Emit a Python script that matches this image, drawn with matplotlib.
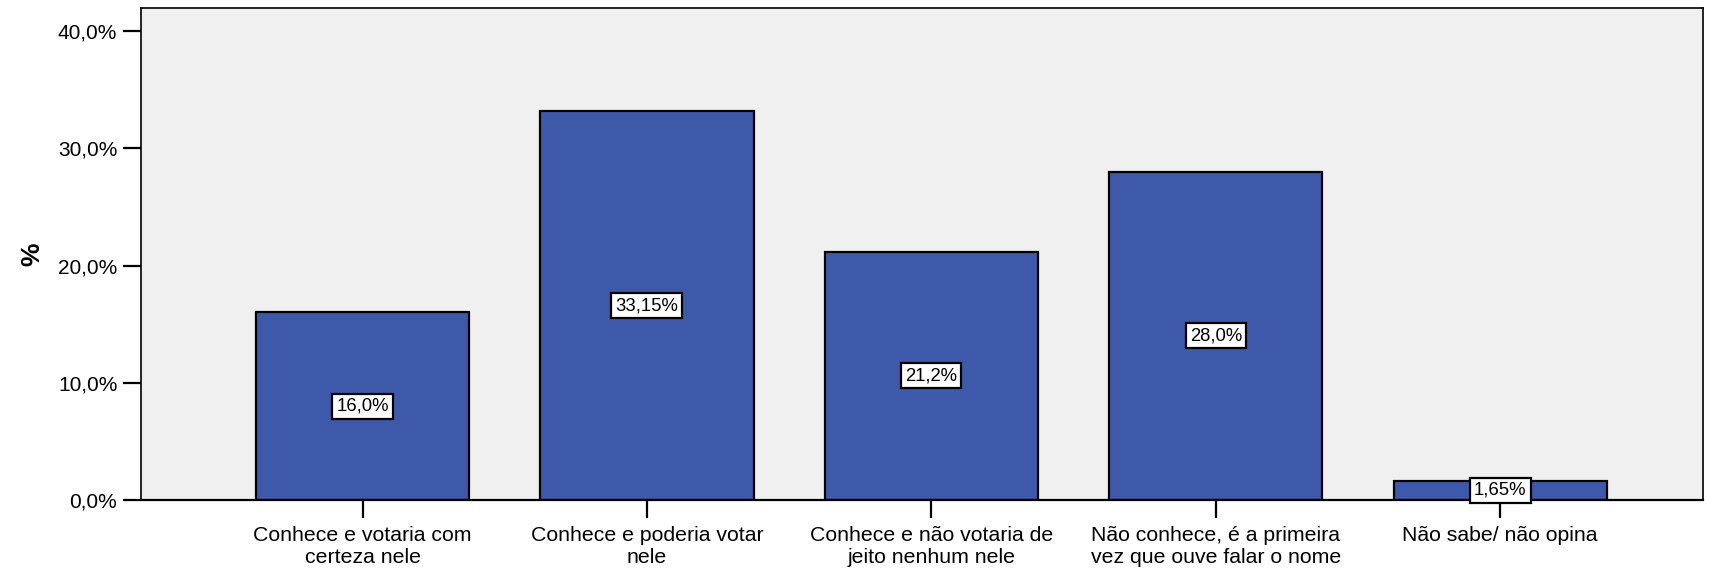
import matplotlib.pyplot as plt

plt.rcParams['font.family'] = ['Liberation Sans', 'DejaVu Sans']

categories = ['Conhece e votaria com\ncerteza nele',
              'Conhece e poderia votar\nnele',
              'Conhece e não votaria de\njeito nenhum nele',
              'Não conhece, é a primeira\nvez que ouve falar o nome',
              'Não sabe/ não opina']
values = [16.0, 33.15, 21.2, 28.0, 1.65]
value_labels = ['16,0%', '33,15%', '21,2%', '28,0%', '1,65%']
yticks = [0, 10, 20, 30, 40]
ytick_labels = ['0,0%', '10,0%', '20,0%', '30,0%', '40,0%']

fig = plt.figure(figsize=(17.15, 5.72), dpi=100)
ax = fig.add_axes([0.0822, 0.1259, 0.993 - 0.0822, 0.9865 - 0.1259])
ax.set_facecolor('#f0f0f0')

x = range(len(categories))
ax.bar(x, values, width=0.75, color='#3f59aa', edgecolor='black', linewidth=1.6, zorder=2)

# labels in the middle of each bar
for xi, v, lab in zip(x, values, value_labels):
    ax.text(xi, v / 2, lab, ha='center', va='center', fontsize=13.3, zorder=5, clip_on=False,
            bbox=dict(boxstyle='square,pad=0.22', facecolor='white', edgecolor='black', linewidth=1.6))

ax.set_xlim(-0.779, 4.713)
ax.set_ylim(0, 42)
ax.set_xticks(list(x))
ax.set_xticklabels(categories, fontsize=15.3, linespacing=1.2)
ax.set_yticks(yticks)
ax.set_yticklabels(ytick_labels, fontsize=15)
ax.tick_params(axis='both', length=13, width=1.6)
ax.tick_params(axis='x', pad=6)
ax.tick_params(axis='y', pad=4)
ax.set_ylabel('%', fontsize=19, fontweight='bold', labelpad=10)

for s in ax.spines.values():
    s.set_linewidth(1.2)
ax.spines['bottom'].set_linewidth(1.6)

fig.savefig('out.png', dpi=100)
